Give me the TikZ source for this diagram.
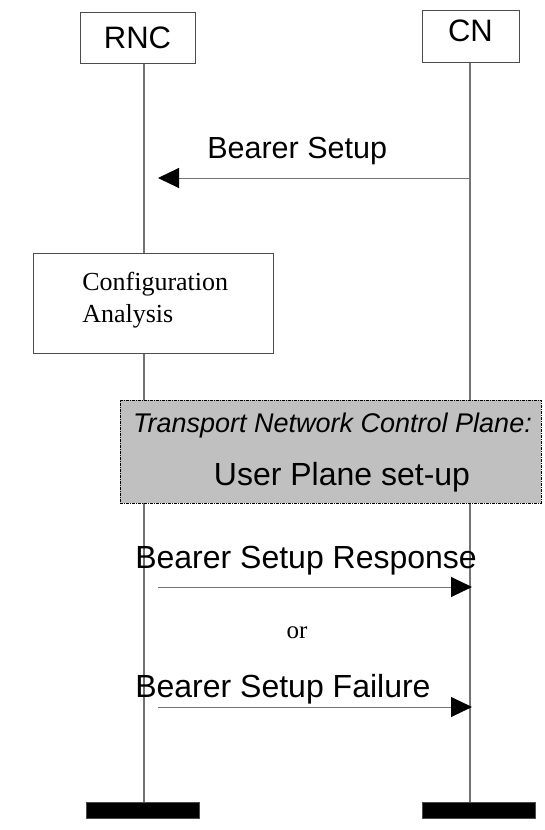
\documentclass[tikz,border=0pt]{standalone}
\usepackage{fontspec}
\setmainfont{Liberation Serif}
\setsansfont{Liberation Sans}
\usepackage{tikz}
\usetikzlibrary{arrows.meta,positioning,calc}

\definecolor{lifegray}{gray}{0.45}
\definecolor{planegray}{RGB}{192,192,192}

\begin{document}
\begin{tikzpicture}[x=1pt,y=-1pt,semithick,
    msg/.style={draw=lifegray,line width=1pt,-{Triangle[length=21pt,width=20pt,color=black]}},
    life/.style={draw=lifegray,line width=1.2pt},
    entity/.style={draw=black!70,line width=1pt,fill=white,inner sep=0pt,font=\sffamily\fontsize{31}{36}\selectfont},
    endbar/.style={fill=black,draw=black!70,minimum width=113pt,minimum height=16pt,inner sep=0pt},
    msglabel/.style={anchor=base west,inner sep=0pt,font=\sffamily\fontsize{30.5}{36}\selectfont}]
  \useasboundingbox (0,0) rectangle (545,830);

  % entities and their end bars
  \node[entity,minimum width=115pt,minimum height=51pt] (RNC) at (137.5,37.5) {RNC};
  \node[entity,minimum width=97pt,minimum height=52pt,text depth=10pt] (CN) at (470.5,36) {CN};
  \node[endbar] (RNCend) at (142.5,810) {};
  \node[endbar] (CNend) at (478.5,810) {};
  \coordinate (RNCx) at (144,0);
  \coordinate (CNx) at (470,0);

  % lifelines
  \draw[life] (RNCx |- RNC.south) -- (RNCx |- RNCend.north);
  \draw[life] (CNx |- CN.south) -- (CNx |- CNend.north);

  % bearer setup request
  \coordinate (bsFrom) at (470,178);
  \coordinate (bsTo) at (158,178);
  \draw[msg] (bsFrom) -- (bsTo);
  \node[msglabel] (bsLabel) at (207,158) {Bearer Setup};

  % local action in the RNC
  \node[draw=black!70,line width=1pt,fill=white,minimum width=240pt,minimum height=100pt,inner sep=0pt] (config) at (153,303) {};
  \node[font=\fontsize{26}{32}\selectfont,align=left,anchor=base west,inner sep=0pt] (configText) at (82,322) {Configuration\\Analysis};

  % transport network control plane
  \node[draw=black,line width=1pt,dash pattern=on 3pt off 1pt on 1pt off 1pt,fill=planegray,minimum width=421pt,minimum height=103pt,inner sep=0pt] (tncp) at (330.5,451.5) {};
  \node[font=\sffamily\itshape\fontsize{27}{32}\selectfont,anchor=base,inner sep=0pt] (tncpTitle) at (332.5,432) {Transport Network Control Plane:};
  \node[font=\sffamily\fontsize{32}{38}\selectfont,anchor=base,inner sep=0pt] (tncpText) at (342,485) {User Plane set-up};

  % answers from the RNC
  \coordinate (rspFrom) at (158,587);
  \coordinate (rspTo) at (472,587);
  \draw[msg] (rspFrom) -- (rspTo);
  \node[msglabel,font=\sffamily\fontsize{32}{36}\selectfont] (rspLabel) at (135,568) {Bearer Setup Response};

  \node[font=\fontsize{25}{30}\selectfont,anchor=base,inner sep=0pt] (orText) at (297,638) {or};

  \coordinate (flrFrom) at (158,707);
  \coordinate (flrTo) at (472,707);
  \draw[msg] (flrFrom) -- (flrTo);
  \node[msglabel,font=\sffamily\fontsize{32}{36}\selectfont] (flrLabel) at (135,697) {Bearer Setup Failure};
\end{tikzpicture}
\end{document}
